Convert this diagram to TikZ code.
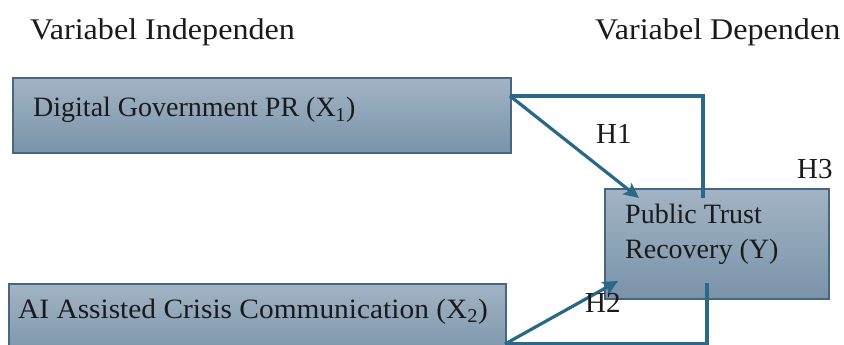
\documentclass[tikz,border=0pt]{standalone}
\usepackage{fontspec}
\setmainfont{Liberation Serif}
\newfontfamily\headf{Liberation Serif}[FakeStretch=1.07]
\newfontfamily\boxwf{Liberation Serif}[FakeStretch=1.05]
\usetikzlibrary{arrows.meta}
\definecolor{linec}{HTML}{2A6888}
\definecolor{boxtop}{HTML}{A2B4C5}
\definecolor{boxbot}{HTML}{7A93A9}
\definecolor{boxedge}{HTML}{46677F}
\definecolor{txt}{HTML}{1A1A1A}
\tikzset{
  varbox/.style={draw=boxedge, line width=1.8pt, top color=boxtop, bottom color=boxbot,
    rectangle, inner sep=0pt, anchor=north west},
  boxtext/.style={anchor=base west, inner sep=0pt, text=txt, font=\fontsize{28}{32}\selectfont},
  headtext/.style={anchor=base west, inner sep=0pt, text=txt, font=\headf\fontsize{30}{34}\selectfont},
  hlabel/.style={anchor=base west, inner sep=0pt, text=txt, font=\fontsize{29}{32}\selectfont},
  conn/.style={draw=linec, line width=3.2pt},
  arr/.style={conn, -{Stealth[length=15pt,width=14pt,inset=3pt]}}
}
\begin{document}
\begin{tikzpicture}[x=1pt,y=-1pt]
\useasboundingbox (0,0) rectangle (844,345);
\begin{scope}
\clip (0,0) rectangle (844,345);
% boxes
\node[varbox, minimum width=498pt, minimum height=75pt] (b1) at (12,77) {};
\node[varbox, minimum width=497pt, minimum height=75pt] (b2) at (8,283) {};
\node[varbox, minimum width=224pt, minimum height=110pt] (by) at (604,188) {};
% connector points
\coordinate (p1) at (510,96);
\coordinate (c1) at (703,96);
\coordinate (e1) at (703,198);
\coordinate (t1) at (639,198);
\coordinate (p2) at (505,344);
\coordinate (c2) at (707,344);
\coordinate (e2) at (707,283);
\coordinate (t2) at (618,281);
\draw[conn] (p1) -- (c1) -- (e1);
\draw[arr] (p1) -- (t1);
\draw[conn] (p2) -- (c2) -- (e2);
\draw[arr] (p2) -- (t2);
\end{scope}
% texts
\node[headtext] (hi) at (30,40) {Variabel Independen};
\node[headtext] (hd) at (595,40) {Variabel Dependen};
\node[boxtext] (t1x) at (33,117) {Digital Government PR (X\textsubscript{1})};
\node[boxtext, font=\boxwf\fontsize{28}{32}\selectfont] (t2x) at (18,318) {AI Assisted Crisis Communication (X\textsubscript{2})};
\node[boxtext] (ty1) at (625,223) {Public Trust};
\node[boxtext] (ty2) at (625,258) {Recovery (Y)};
\node[hlabel] (h1) at (596,143) {H1};
\node[hlabel] (h2) at (585,312) {H2};
\node[hlabel] (h3) at (797,178) {H3};
\end{tikzpicture}
\end{document}
